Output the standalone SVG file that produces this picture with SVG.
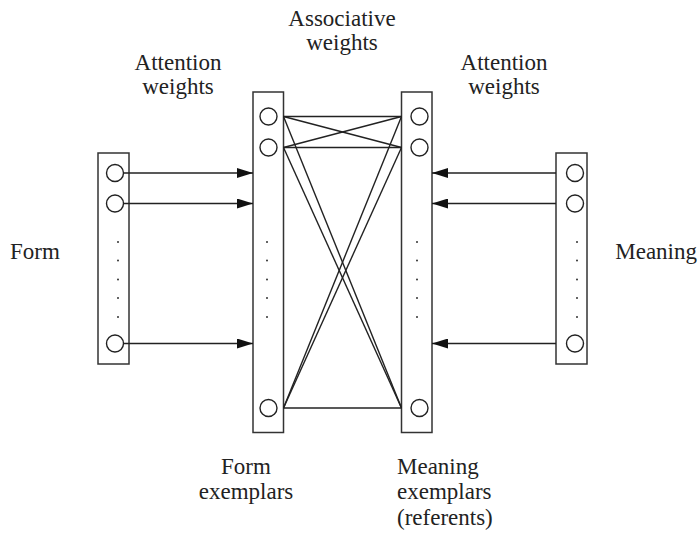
<svg xmlns="http://www.w3.org/2000/svg" width="700" height="533" viewBox="0 0 700 533">
<defs>
<style>
.box{fill:none;stroke:#333;stroke-width:1.5}
.c{fill:#fff;stroke:#222;stroke-width:1.4}
.d{fill:#333}
.ln{stroke:#222;stroke-width:1.4;fill:none}
text{font-family:"Liberation Serif","Times New Roman",serif;font-size:23px;fill:#222;text-anchor:middle}
</style>
<marker id="ah" viewBox="0 0 16 10" refX="16" refY="5" markerWidth="16" markerHeight="10" markerUnits="userSpaceOnUse" orient="auto">
<path d="M0,0 L16,5 L0,10 Z" fill="#111"/>
</marker>
</defs>
<rect width="700" height="533" fill="#fff"/>
<g id="form">
<rect class="box" x="98" y="153" width="31" height="211"/>
<circle class="c" cx="115" cy="173" r="8.5"/>
<circle class="c" cx="115" cy="203.5" r="8.5"/>
<circle class="c" cx="115" cy="343.5" r="8.5"/>
<circle class="d" cx="118" cy="242" r="1"/><circle class="d" cx="118" cy="260.5" r="1"/><circle class="d" cx="118" cy="279.5" r="1"/><circle class="d" cx="118" cy="298" r="1"/><circle class="d" cx="118" cy="317" r="1"/>
</g>
<g id="form-exemplars">
<rect class="box" x="253" y="92" width="30.5" height="340.5"/>
<circle class="c" cx="268.5" cy="116.5" r="8.5"/>
<circle class="c" cx="268.5" cy="147.5" r="8.5"/>
<circle class="c" cx="268.5" cy="408" r="8.5"/>
<circle class="d" cx="267" cy="242" r="1"/><circle class="d" cx="267" cy="260.5" r="1"/><circle class="d" cx="267" cy="279.5" r="1"/><circle class="d" cx="267" cy="298" r="1"/><circle class="d" cx="267" cy="317" r="1"/>
</g>
<g id="meaning-exemplars">
<rect class="box" x="401.5" y="92" width="30.5" height="340.5"/>
<circle class="c" cx="419.5" cy="116.5" r="8.5"/>
<circle class="c" cx="419.5" cy="147.5" r="8.5"/>
<circle class="c" cx="419.5" cy="408" r="8.5"/>
<circle class="d" cx="417" cy="242" r="1"/><circle class="d" cx="417" cy="260.5" r="1"/><circle class="d" cx="417" cy="279.5" r="1"/><circle class="d" cx="417" cy="298" r="1"/><circle class="d" cx="417" cy="317" r="1"/>
</g>
<g id="meaning">
<rect class="box" x="556" y="153" width="31" height="211"/>
<circle class="c" cx="575" cy="173" r="8.5"/>
<circle class="c" cx="575" cy="203.5" r="8.5"/>
<circle class="c" cx="575" cy="343.5" r="8.5"/>
<circle class="d" cx="577" cy="242" r="1"/><circle class="d" cx="577" cy="260.5" r="1"/><circle class="d" cx="577" cy="279.5" r="1"/><circle class="d" cx="577" cy="298" r="1"/><circle class="d" cx="577" cy="317" r="1"/>
</g>
<g id="connectors">
<line class="ln" x1="124" y1="173" x2="253" y2="173" marker-end="url(#ah)"/>
<line class="ln" x1="124" y1="203.5" x2="253" y2="203.5" marker-end="url(#ah)"/>
<line class="ln" x1="124" y1="343.5" x2="253" y2="343.5" marker-end="url(#ah)"/>
<line class="ln" x1="556" y1="173" x2="432" y2="173" marker-end="url(#ah)"/>
<line class="ln" x1="556" y1="203.5" x2="432" y2="203.5" marker-end="url(#ah)"/>
<line class="ln" x1="556" y1="343.5" x2="432" y2="343.5" marker-end="url(#ah)"/>
<line class="ln" x1="283.5" y1="116.5" x2="401.5" y2="116.5"/>
<line class="ln" x1="283.5" y1="147.5" x2="401.5" y2="147.5"/>
<line class="ln" x1="283.5" y1="116.5" x2="401.5" y2="147.5"/>
<line class="ln" x1="283.5" y1="147.5" x2="401.5" y2="116.5"/>
<line class="ln" x1="283.5" y1="116.5" x2="401.5" y2="408"/>
<line class="ln" x1="283.5" y1="147.5" x2="401.5" y2="408"/>
<line class="ln" x1="283.5" y1="408" x2="401.5" y2="116.5"/>
<line class="ln" x1="283.5" y1="408" x2="401.5" y2="147.5"/>
<line class="ln" x1="283.5" y1="408" x2="401.5" y2="408"/>
</g>
<g id="labels">
<text x="10" y="259" style="text-anchor:start">Form</text>
<text x="697" y="259" style="text-anchor:end">Meaning</text>
<text x="342" y="26">Associative</text>
<text x="342" y="50">weights</text>
<text x="178" y="70">Attention</text>
<text x="178" y="94">weights</text>
<text x="504" y="70">Attention</text>
<text x="504" y="94">weights</text>
<text x="246" y="474">Form</text>
<text x="246" y="499">exemplars</text>
<text x="397" y="474" style="text-anchor:start">Meaning</text>
<text x="397" y="499" style="text-anchor:start">exemplars</text>
<text x="397" y="525" style="text-anchor:start">(referents)</text>
</g>
</svg>
